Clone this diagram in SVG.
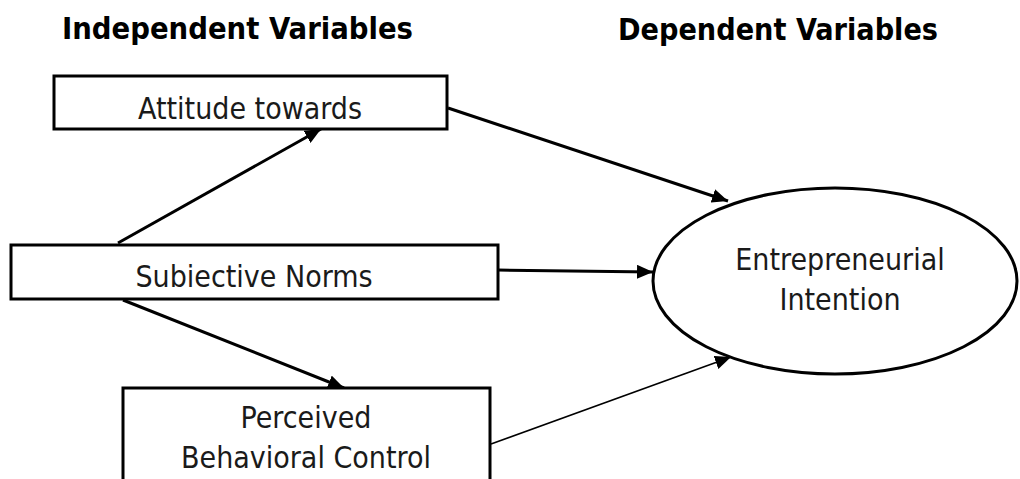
<svg xmlns="http://www.w3.org/2000/svg" width="1020" height="479" viewBox="0 0 1020 479">
<style>
.box{fill:#fff;stroke:#000;stroke-width:3}
.lbl{font-family:"DejaVu Sans Condensed","DejaVu Sans",sans-serif;font-size:30px;fill:#1a1a1a;text-anchor:middle}
.hdr{font-family:"DejaVu Sans Condensed","DejaVu Sans",sans-serif;font-size:30px;font-weight:bold;fill:#000}
.c{fill:none;stroke:#000;stroke-width:3}
.thin{stroke-width:1.6}
</style>
<defs>
<marker id="ah" markerUnits="userSpaceOnUse" markerWidth="18" markerHeight="14" refX="16" refY="7" orient="auto">
<path d="M0,0 L16,7 L0,14 Z" fill="#000"/>
</marker>
</defs>
<text class="hdr" x="62" y="39" textLength="351" lengthAdjust="spacingAndGlyphs">Independent Variables</text>
<text class="hdr" x="618" y="40" textLength="320" lengthAdjust="spacingAndGlyphs">Dependent Variables</text>
<g id="connectors">
<line class="c" x1="448" y1="108" x2="728" y2="201" marker-end="url(#ah)"/>
<line class="c" x1="498" y1="270" x2="653" y2="272" marker-end="url(#ah)"/>
<line class="c thin" x1="491" y1="444" x2="731" y2="357" marker-end="url(#ah)"/>
<line class="c" x1="118" y1="243" x2="321" y2="129" marker-end="url(#ah)"/>
<line class="c" x1="123" y1="300" x2="344" y2="388" marker-end="url(#ah)"/>
</g>
<g id="attitude">
<rect class="box" x="54" y="76" width="393" height="53"/>
<text class="lbl" x="250" y="119">Attitude towards</text>
</g>
<g id="subjective">
<rect class="box" x="11" y="245" width="487" height="54"/>
<text class="lbl" x="254" y="287">Subiective Norms</text>
</g>
<g id="pbc">
<rect class="box" x="123" y="388" width="367" height="100"/>
<text class="lbl" x="306" y="428">Perceived</text>
<text class="lbl" x="306" y="468">Behavioral Control</text>
</g>
<g id="intention">
<ellipse class="box" cx="835" cy="281" rx="182" ry="93"/>
<text class="lbl" x="840" y="270">Entrepreneurial</text>
<text class="lbl" x="840" y="310">Intention</text>
</g>
</svg>
